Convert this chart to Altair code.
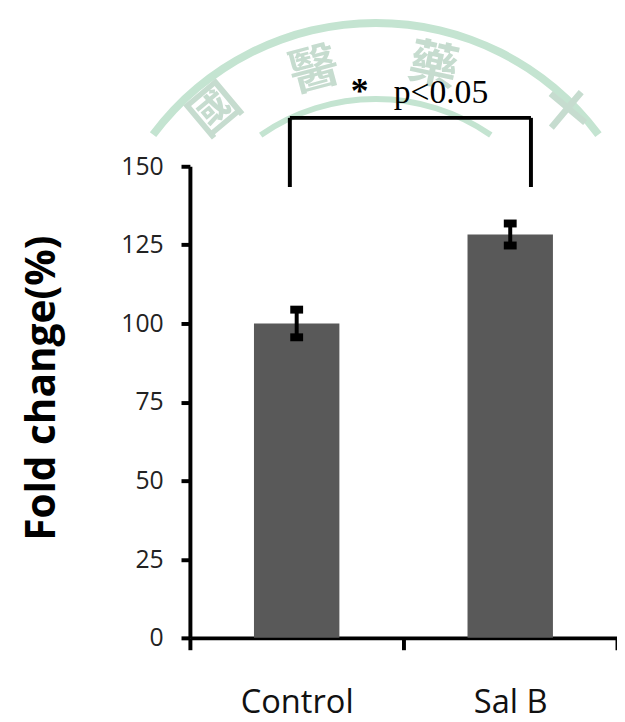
import altair as alt
import pandas as pd

# ---- data ----
groups = ["Control", "Sal B"]
means = [100.0, 128.3]
errors = [4.4, 3.5]
y_ticks = [0, 25, 50, 75, 100, 125, 150]

# significance bracket (x in category units 0..2, y in data units)
bracket_x = [0.468, 1.597]
bracket_top = 165.4
bracket_bottom = 143.4
star_x = 0.795
sig_x = 0.954
sig_y = 170.2
sig_label = "p<0.05"

# faint seal watermark in the background (pixel space)
wm_chars = ["國", "醫", "藥", "十"]
wm_px = [26, 126, 246, 378]
wm_py = [-56, -96, -100, -54]
wm_angle = [320, 345, 12, 40]

W, H = 432, 477
WM_COLOR = "#c4e4d1"

df = pd.DataFrame({"group": groups, "mean": means, "err": errors})

y_scale = alt.Scale(domain=[0, 150], nice=False, zero=True)
y_axis = alt.Axis(
    values=y_ticks, grid=False, title="Fold change(%)",
    titleFont="Open Sans", titleFontSize=41, titleFontWeight="bold",
    titleAngle=270, titleX=-137, titleY=224, titleBaseline="alphabetic",
    titleAlign="center", titleColor="black",
    tickSize=9, tickWidth=4, tickColor="black",
    domainWidth=4, domainColor="black",
    labelFont="Open Sans", labelFontSize=25, labelColor="#222", labelPadding=18,
)
x_enc = alt.X(
    "group:N", sort=groups,
    scale=alt.Scale(paddingInner=0, paddingOuter=0),
    axis=alt.Axis(
        title=None, labelAngle=0, tickBand="extent", tickSize=12, tickWidth=4,
        tickColor="black", domainWidth=4, domainColor="black",
        labelFont="Open Sans", labelFontSize=33, labelColor="#111", labelPadding=37,
    ),
)

base = alt.Chart(df).transform_calculate(
    lo="datum.mean - datum.err", hi="datum.mean + datum.err"
)
bars = base.mark_bar(color="#595959", width=alt.RelativeBandSize(0.4)).encode(
    x=x_enc, y=alt.Y("mean:Q", scale=y_scale, axis=y_axis)
)
stems = base.mark_rule(color="black", strokeWidth=4).encode(
    x=x_enc, y=alt.Y("lo:Q", scale=y_scale, axis=y_axis), y2="hi:Q"
)
cap_lo = base.mark_tick(color="black", thickness=8, size=13, opacity=1).encode(
    x=x_enc, y=alt.Y("lo:Q", scale=y_scale, axis=y_axis)
)
cap_hi = base.mark_tick(color="black", thickness=8, size=13, opacity=1).encode(
    x=x_enc, y=alt.Y("hi:Q", scale=y_scale, axis=y_axis)
)
main = alt.layer(bars, stems, cap_lo, cap_hi)

# ---- annotation layer ----
ax = alt.Scale(domain=[0, 2], nice=False, zero=False)
ay = alt.Scale(domain=[0, 150], nice=False)
hline = alt.Chart(pd.DataFrame({"x1": [bracket_x[0]], "x2": [bracket_x[1]], "y": [bracket_top]})).mark_rule(
    color="black", strokeWidth=4
).encode(
    x=alt.X("x1:Q", scale=ax, axis=None), x2="x2:Q",
    y=alt.Y("y:Q", scale=ay, axis=None),
)
legs = alt.Chart(pd.DataFrame({"x": bracket_x, "y1": [bracket_top] * 2, "y2": [bracket_bottom] * 2})).mark_rule(
    color="black", strokeWidth=4
).encode(
    x=alt.X("x:Q", scale=ax, axis=None),
    y=alt.Y("y1:Q", scale=ay, axis=None), y2="y2:Q",
)
star = alt.Chart(pd.DataFrame({"x": [star_x], "y": [sig_y], "t": ["*"]})).mark_text(
    font="Liberation Serif", fontSize=36, fontWeight="bold", color="black",
    align="center", baseline="alphabetic",
).encode(x=alt.X("x:Q", scale=ax, axis=None), y=alt.Y("y:Q", scale=ay, axis=None), text="t:N")
sig = alt.Chart(pd.DataFrame({"x": [sig_x], "y": [sig_y], "t": [sig_label]})).mark_text(
    font="Liberation Serif", fontSize=34, color="black",
    align="left", baseline="alphabetic",
).encode(x=alt.X("x:Q", scale=ax, axis=None), y=alt.Y("y:Q", scale=ay, axis=None), text="t:N")
annot = alt.layer(hline, legs, star, sig)

# ---- watermark layer ----
one = pd.DataFrame({"k": [0]})
ring_out = alt.Chart(one).mark_arc(
    radius=285, radius2=277, theta=5.353, theta2=7.213, color=WM_COLOR
).encode(x=alt.value(188), y=alt.value(136))
ring_in = alt.Chart(one).mark_arc(
    radius=207, radius2=201, theta=5.676, theta2=6.890, color=WM_COLOR
).encode(x=alt.value(188), y=alt.value(136))
chars = alt.Chart(pd.DataFrame({"c": wm_chars, "px": wm_px, "py": wm_py, "a": wm_angle})).mark_text(
    font="Noto Sans CJK TC", fontSize=50, fontWeight="bold", color="#c6dccf",
    align="center", baseline="middle",
).encode(
    x=alt.X("px:Q", scale=None, axis=None),
    y=alt.Y("py:Q", scale=None, axis=None),
    angle=alt.Angle("a:Q", scale=None),
    text="c:N",
)
watermark = alt.layer(ring_out, ring_in, chars)

chart = alt.layer(watermark, main, annot).resolve_scale(
    x="independent", y="independent"
).properties(
    width=W, height=H,
    autosize=alt.AutoSizeParams(type="none"),
    padding={"left": 184, "top": 156, "right": 0, "bottom": 80},
    background="white",
).configure_view(stroke=None).configure_axis(
    domainWidth=4, tickWidth=4, domainColor="black", tickColor="black"
)

chart.save("out.html", embed_options={"renderer": "svg", "actions": False})
